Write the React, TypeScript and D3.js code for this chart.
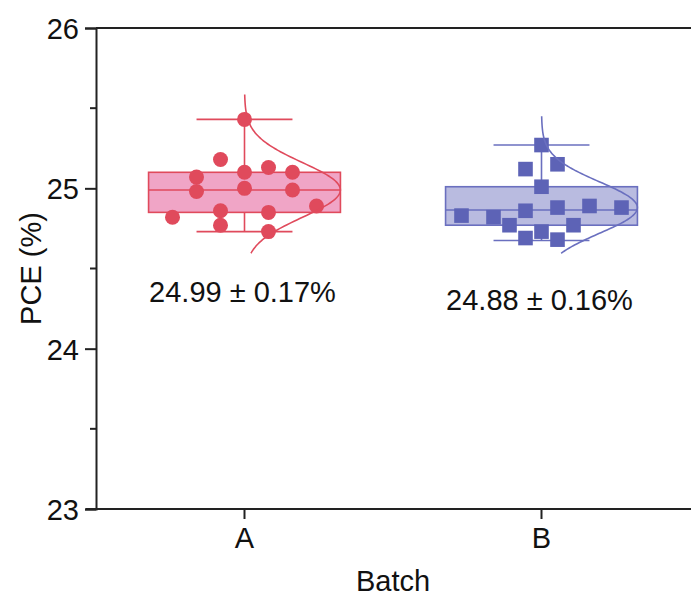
import React, { useEffect, useRef } from 'react';
import * as d3 from 'd3';

const batches = ['A', 'B'];

// individual device PCE values (%)
const pceA = [25.43, 25.18, 25.13, 25.1, 25.1, 25.07, 24.98, 25.0, 24.99, 24.89, 24.82, 24.86, 24.85, 24.77, 24.73];
const pceB = [25.27, 25.12, 25.15, 25.01, 24.83, 24.82, 24.86, 24.88, 24.89, 24.88, 24.77, 24.77, 24.73, 24.69, 24.68];

// jitter column of each point
const colsA = [0, -1, 1, 0, 2, -2, -2, 0, 2, 3, -3, -1, 1, -1, 1];
const colsB = [0, -1, 1, 0, -5, -3, -1, 1, 3, 5, -2, 2, 0, -1, 1];

// box stats: [whisker low, q1, median, q3, whisker high]
const boxA = [24.73, 24.85, 24.99, 25.1, 25.43];
const boxB = [24.675, 24.77, 24.865, 25.01, 25.27];

// normal curve: mean, sd, drawn range
const normA = [24.99, 0.17, 24.595, 25.585];
const normB = [24.88, 0.16, 24.595, 25.45];

const labels = ['24.99 ± 0.17%', '24.88 ± 0.16%'];
const yTicks = [23, 24, 25, 26];
const yMinor = [23.5, 24.5, 25.5];

const W = 691;
const H = 599;
const left = 96;
const right = 690;
const top = 28;
const bottom = 509;
const font = '"Liberation Sans", Arial, sans-serif';

const groups = [
  { name: 'A', values: pceA, cols: colsA, box: boxA, norm: normA, label: labels[0], colStep: 24, shape: 'circle', stroke: '#e04a5c', fill: '#f0a5c6', mark: '#e04a5c' },
  { name: 'B', values: pceB, cols: colsB, box: boxB, norm: normB, label: labels[1], colStep: 16, shape: 'square', stroke: '#6a6fbf', fill: '#b9bbe0', mark: '#5d63b6' },
];

function App() {
  const ref = useRef<SVGSVGElement>(null);

  useEffect(() => {
    const svg = d3.select(ref.current).attr('width', W).attr('height', H);
    svg.selectAll('*').remove();

    const x = d3.scaleBand().domain(batches).range([left, right]).padding(0);
    const y = d3.scaleLinear().domain([23, 26]).range([bottom, top]);
    const half = x.bandwidth() * 0.323;

    groups.forEach((gr) => {
      const cx = x(gr.name)! + x.bandwidth() / 2;
      const g = svg.append('g');
      const [lo, q1, med, q3, hi] = gr.box;

      // whiskers
      g.append('line').attr('x1', cx).attr('x2', cx).attr('y1', y(hi)).attr('y2', y(lo))
        .attr('stroke', gr.stroke).attr('stroke-width', 1.6);
      [lo, hi].forEach((v) => {
        g.append('line').attr('x1', cx - half / 2).attr('x2', cx + half / 2).attr('y1', y(v)).attr('y2', y(v))
          .attr('stroke', gr.stroke).attr('stroke-width', 1.6);
      });

      // box
      g.append('rect').attr('x', cx - half).attr('width', half * 2).attr('y', y(q3)).attr('height', y(q1) - y(q3))
        .attr('fill', gr.fill).attr('stroke', gr.stroke).attr('stroke-width', 1.6);
      g.append('line').attr('x1', cx - half).attr('x2', cx + half).attr('y1', y(med)).attr('y2', y(med))
        .attr('stroke', gr.stroke).attr('stroke-width', 1.6);

      // points
      gr.values.forEach((v, i) => {
        const px = cx + gr.cols[i] * gr.colStep;
        if (gr.shape === 'circle') {
          g.append('circle').attr('cx', px).attr('cy', y(v)).attr('r', 7.5).attr('fill', gr.mark);
        } else {
          g.append('rect').attr('x', px - 7.3).attr('y', y(v) - 7.3).attr('width', 14.6).attr('height', 14.6).attr('fill', gr.mark);
        }
      });

      // normal curve
      const [mu, sd, nLo, nHi] = gr.norm;
      const pts = d3.range(0, 101).map((k) => nLo + ((nHi - nLo) * k) / 100);
      const line = d3.line<number>()
        .x((v) => cx + half * Math.exp(-0.5 * ((v - mu) / sd) ** 2))
        .y((v) => y(v))
        .curve(d3.curveBasis);
      g.append('path').attr('d', line(pts)).attr('fill', 'none').attr('stroke', gr.stroke).attr('stroke-width', 1.6);

      // mean ± sd label
      svg.append('text').attr('x', cx - 2).attr('y', y(lo) + 70).attr('text-anchor', 'middle')
        .attr('font-family', font).attr('font-size', 29).attr('fill', '#111').text(gr.label);
    });

    // frame
    const axisColor = '#222';
    svg.append('line').attr('x1', left).attr('x2', W).attr('y1', top).attr('y2', top).attr('stroke', axisColor).attr('stroke-width', 2);

    const yAxis = svg.append('g').attr('transform', `translate(${left},0)`)
      .call(d3.axisLeft(y).tickValues(yTicks).tickFormat(d3.format('d')).tickSize(11).tickPadding(6));
    yAxis.select('.domain').attr('stroke', axisColor).attr('stroke-width', 2);
    yAxis.selectAll('.tick line').attr('stroke', axisColor).attr('stroke-width', 2);
    yAxis.selectAll('.tick text').attr('font-family', font).attr('font-size', 29).attr('fill', '#111').attr('dy', '0.36em');
    yMinor.forEach((v) => {
      svg.append('line').attr('x1', left - 6).attr('x2', left).attr('y1', y(v)).attr('y2', y(v)).attr('stroke', axisColor).attr('stroke-width', 2);
    });

    const xAxis = svg.append('g').attr('transform', `translate(0,${bottom})`)
      .call(d3.axisBottom(x).tickSize(10).tickPadding(8));
    xAxis.select('.domain').remove();
    xAxis.append('line').attr('x1', left - 10).attr('x2', W).attr('stroke', axisColor).attr('stroke-width', 2);
    xAxis.selectAll('.tick line').attr('stroke', axisColor).attr('stroke-width', 2);
    xAxis.selectAll('.tick text').attr('font-family', font).attr('font-size', 29).attr('fill', '#111');

    svg.append('text').attr('transform', `translate(41,${(top + bottom) / 2}) rotate(-90)`).attr('text-anchor', 'middle')
      .attr('font-family', font).attr('font-size', 29).attr('fill', '#111').text('PCE (%)');
    svg.append('text').attr('x', (left + right) / 2).attr('y', 591).attr('text-anchor', 'middle')
      .attr('font-family', font).attr('font-size', 29).attr('fill', '#111').text('Batch');
  }, []);

  return (
    <div style={{ position: 'absolute', left: 0, top: 0 }}>
      <svg ref={ref}></svg>
    </div>
  );
}

export default App;
